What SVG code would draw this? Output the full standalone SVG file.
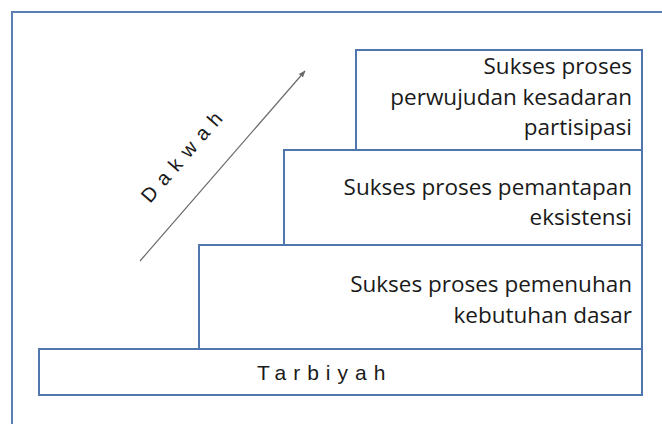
<svg xmlns="http://www.w3.org/2000/svg" width="662" height="424" viewBox="0 0 662 424">
  <defs>
    <marker id="arr" viewBox="0 0 10 10" refX="9" refY="5" markerWidth="7" markerHeight="7" orient="auto" markerUnits="userSpaceOnUse">
      <path d="M0,1 L10,5 L0,9 z" fill="#6a6a6a"/>
    </marker>
  </defs>
  <style>
    .box { fill: #ffffff; stroke: #5077ad; stroke-width: 2; }
    .frame { fill: none; stroke: #5c7fb3; stroke-width: 2; }
    .lbl { font-family: "Open Sans", "Noto Sans", sans-serif; font-size: 22.5px; fill: #1a1a1a; text-anchor: end; }
    .sp { font-family: "Liberation Sans", Arial, sans-serif; fill: #1a1a1a; }
  </style>
  <rect width="662" height="424" fill="#ffffff"/>
  <path class="frame" d="M12,424 V12 H662"/>

  <g id="connectors">
    <line x1="140" y1="261" x2="305" y2="71" stroke="#6a6a6a" stroke-width="1.2" marker-end="url(#arr)"/>
  </g>

  <g id="dakwah-label">
    <text class="sp" x="0" y="0" font-size="20" letter-spacing="8" transform="translate(150,204) rotate(-49)">Dakwah</text>
  </g>

  <g id="node-partisipasi">
    <rect class="box" x="356" y="50" width="286" height="100"/>
    <text class="lbl" x="632" y="74">Sukses proses</text>
    <text class="lbl" x="632" y="105">perwujudan kesadaran</text>
    <text class="lbl" x="632" y="135">partisipasi</text>
  </g>

  <g id="node-eksistensi">
    <rect class="box" x="284" y="150" width="358" height="95"/>
    <text class="lbl" x="632" y="195">Sukses proses pemantapan</text>
    <text class="lbl" x="632" y="225">eksistensi</text>
  </g>

  <g id="node-kebutuhan">
    <rect class="box" x="199" y="245" width="443" height="104"/>
    <text class="lbl" x="632" y="292">Sukses proses pemenuhan</text>
    <text class="lbl" x="632" y="323">kebutuhan dasar</text>
  </g>

  <g id="node-tarbiyah">
    <rect class="box" x="39" y="349" width="603" height="46"/>
    <text class="sp" x="257" y="380" font-size="21" letter-spacing="7">Tarbiyah</text>
  </g>
</svg>
